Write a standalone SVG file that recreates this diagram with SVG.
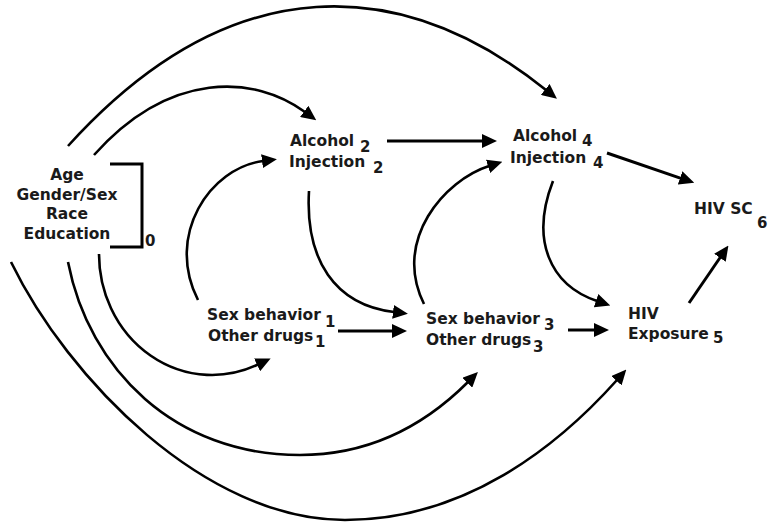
<svg xmlns="http://www.w3.org/2000/svg" width="771" height="523" viewBox="0 0 771 523">
<style>
.t{font-family:"DejaVu Sans","Verdana",sans-serif;font-weight:bold;font-size:15.5px;fill:#1a1a1a}
.s{font-family:"DejaVu Sans","Verdana",sans-serif;font-weight:bold;font-size:15px;fill:#1a1a1a}
.c{fill:none;stroke:#000;stroke-width:2.6}
.l{fill:none;stroke:#000;stroke-width:3}
</style>
<defs>
<marker id="ah" markerUnits="userSpaceOnUse" markerWidth="15" markerHeight="14" viewBox="0 -7 15 14" refX="1" refY="0" orient="auto">
<path d="M0,-7 L15,0 L0,7 z" fill="#000"/>
</marker>
</defs>
<rect width="771" height="523" fill="#fff"/>
<g id="demographics">
<text class="t" x="67" y="180" text-anchor="middle">Age</text>
<text class="t" x="67" y="199.5" text-anchor="middle">Gender/Sex</text>
<text class="t" x="67" y="219" text-anchor="middle">Race</text>
<text class="t" x="67" y="238.5" text-anchor="middle">Education</text>
<path d="M110,164 H142 V247 H110" class="l"/>
<text class="s" x="145" y="246">0</text>
</g>
<g id="alcohol2">
<text class="t" x="290" y="146">Alcohol</text><text class="s" x="360" y="152">2</text>
<text class="t" x="289" y="167">Injection</text><text class="s" x="373" y="173">2</text>
</g>
<g id="alcohol4">
<text class="t" x="513" y="141">Alcohol</text><text class="s" x="582" y="146">4</text>
<text class="t" x="510" y="163">Injection</text><text class="s" x="593" y="168">4</text>
</g>
<g id="hivsc6">
<text class="t" x="694" y="214">HIV SC</text><text class="s" x="757" y="228">6</text>
</g>
<g id="sex1">
<text class="t" x="207" y="320">Sex behavior</text><text class="s" x="325" y="327">1</text>
<text class="t" x="208" y="341">Other drugs</text><text class="s" x="315" y="347">1</text>
</g>
<g id="sex3">
<text class="t" x="426" y="324">Sex behavior</text><text class="s" x="544" y="330">3</text>
<text class="t" x="426" y="344.5">Other drugs</text><text class="s" x="533" y="352">3</text>
</g>
<g id="hivexp5">
<text class="t" x="628" y="318.5">HIV</text>
<text class="t" x="628" y="338.5">Exposure</text><text class="s" x="713" y="343">5</text>
</g>
<g id="connectors">
<path class="c" d="M68,146 C234,-37 405,-23 546,90" marker-end="url(#ah)"/>
<path class="c" d="M94,155 C170,70 255,75 305,112" marker-end="url(#ah)"/>
<path class="l" d="M387,141 H483" marker-end="url(#ah)"/>
<path class="c" d="M198,300 C165,235 210,168 263,161" marker-end="url(#ah)"/>
<path class="c" d="M309,191 C305,260 335,305 394,312" marker-end="url(#ah)"/>
<path class="l" d="M338,331 H393" marker-end="url(#ah)"/>
<path class="c" d="M424,304 C392,240 445,180 489,166" marker-end="url(#ah)"/>
<path class="c" d="M553,181 C530,240 550,285 597,301" marker-end="url(#ah)"/>
<path class="l" d="M568,330 H595" marker-end="url(#ah)"/>
<path class="l" d="M607,153 L681,178.3" marker-end="url(#ah)"/>
<path class="l" d="M689,303 L720.5,257" marker-end="url(#ah)"/>
<path class="c" d="M99,254 A113 121 0 0 0 258,364.5" marker-end="url(#ah)"/>
<path class="c" d="M68,262 C89,370 175,455 300,455 C370,455 426,424 468,382" marker-end="url(#ah)"/>
<path class="c" d="M11,262 C68,379 205,520 345,520 C465,520 557,447 617,380" marker-end="url(#ah)"/>
</g>
</svg>
